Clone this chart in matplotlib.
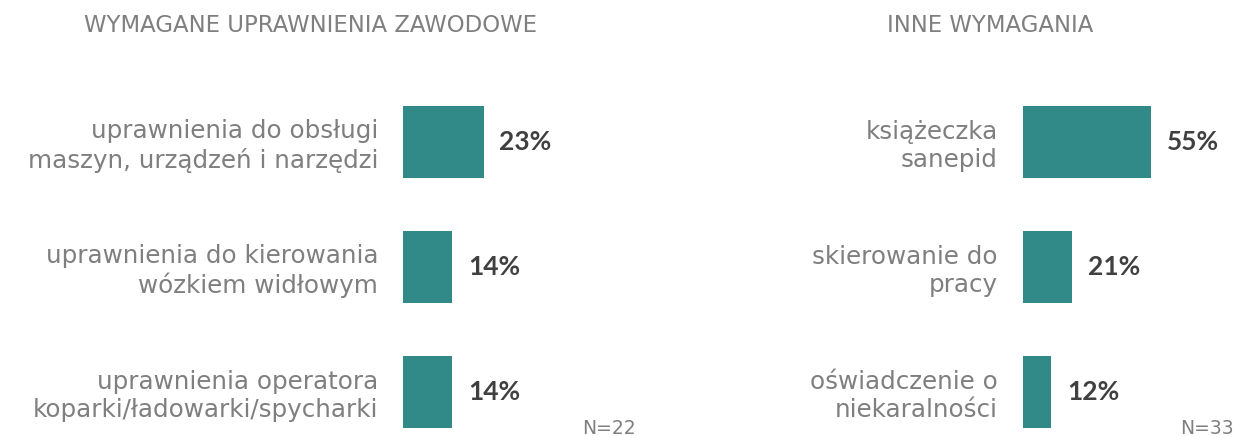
import matplotlib.pyplot as plt

plt.rcParams['font.family'] = ['DejaVu Sans']

# left panel data
left_title = "WYMAGANE UPRAWNIENIA ZAWODOWE"
left_labels = ["uprawnienia do obsługi\nmaszyn, urządzeń i narzędzi",
               "uprawnienia do kierowania\nwózkiem widłowym",
               "uprawnienia operatora\nkoparki/ładowarki/spycharki"]
left_values = [23, 14, 14]
left_n = "N=22"

# right panel data
right_title = "INNE WYMAGANIA"
right_labels = ["książeczka\nsanepid",
                "skierowanie do\npracy",
                "oświadczenie o\nniekaralności"]
right_values = [55, 21, 12]
right_n = "N=33"

BAR = '#318a87'
GREY = '#7f7f7f'
DARK = '#404040'

W, H = 1237, 436
fig = plt.figure(figsize=(W / 100, H / 100), dpi=100)


def panel(left_px, width_px, px_per_pct, labels, values, title, title_x, n_text, n_x):
    # axes placed in pixel coords (top=80, bottom=436)
    ax = fig.add_axes([left_px / W, 0, width_px / W, (H - 80) / H])
    ypos = range(len(values))
    ax.barh(ypos, values, height=0.576, color=BAR)
    ax.set_xlim(0, width_px / px_per_pct)
    ax.set_ylim(2.352, -0.496)
    ax.axis('off')
    for i, (lab, v) in enumerate(zip(labels, values)):
        ax.annotate(lab, xy=(0, i), xytext=(-18, -3), textcoords='offset points',
                    ha='right', va='center', fontsize=17.7, color=GREY,
                    linespacing=1.22)
        ax.annotate(f"{v}%", xy=(v, i), xytext=(11.5, 0), textcoords='offset points',
                    ha='left', va='center', fontsize=19, color=DARK,
                    fontweight='bold', family='Lato')
    fig.text(title_x / W, 1 - 25 / H, title, ha='center', va='center',
             fontsize=16.4, color=GREY)
    fig.text(n_x / W, 1 - 434 / H, n_text, ha='center', va='baseline',
             fontsize=13.5, color=GREY)
    return ax


panel(403, 230, 3.5, left_labels, left_values, left_title, 311, left_n, 609)
panel(1023, 210, 2.33, right_labels, right_values, right_title, 990, right_n, 1207)

fig.savefig('out.png', dpi=100)
